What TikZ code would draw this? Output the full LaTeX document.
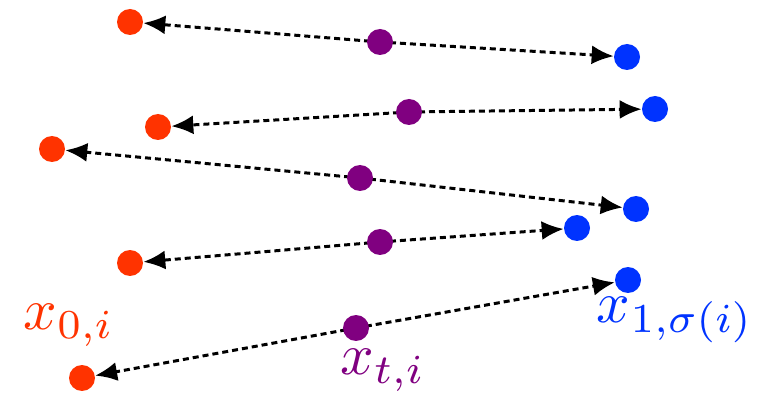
\documentclass[tikz,border=0pt]{standalone}
\usepackage{amsmath,amssymb}
\usepackage{graphicx}
\usepackage{tikz}
\usetikzlibrary{arrows.meta,positioning}
\definecolor{srcred}{RGB}{255,51,0}
\definecolor{tgtblue}{RGB}{0,51,255}
\definecolor{midpurple}{RGB}{128,0,128}
\newcommand{\biglabel}[1]{\scalebox{3.35}{$#1$}}
\tikzset{
    pt/.style={circle, inner sep=0pt, minimum size=0.52cm},
    link/.style={-{Latex[length=0.44cm,width=0.38cm]}, line width=1.7pt, dash pattern=on 0.12cm off 0.08cm},
    bigmath/.style={inner sep=0pt}
}

\begin{document}
\begin{tikzpicture}[x=0.02cm, y=-0.02cm]
    \useasboundingbox (0,0) rectangle (757,398);

    \node[pt, fill=srcred] (r1) at (130, 22) {};
    \node[pt, fill=srcred] (r2) at (158, 127) {};
    \node[pt, fill=srcred] (r3) at (52, 149) {};
    \node[pt, fill=srcred] (r4) at (130, 263) {};
    \node[pt, fill=srcred] (r5) at (82, 378) {};

    \node[pt, fill=tgtblue] (b1) at (627, 57) {};
    \node[pt, fill=tgtblue] (b2) at (655, 109) {};
    \node[pt, fill=tgtblue] (b3) at (636, 209) {};
    \node[pt, fill=tgtblue] (b4) at (577, 228) {};
    \node[pt, fill=tgtblue] (b5) at (628, 280) {};

    \draw[link] (380, 42) -- (r1);
    \draw[link] (380, 42) -- (b1);
    \draw[link] (409, 112) -- (r2);
    \draw[link] (409, 112) -- (b2);
    \draw[link] (360, 178) -- (r3);
    \draw[link] (360, 178) -- (b3);
    \draw[link] (380, 242) -- (r4);
    \draw[link] (380, 242) -- (b4);
    \draw[link] (356, 328) -- (r5);
    \draw[link] (356, 328) -- (b5);

    \node[pt, fill=midpurple] (m1) at (380, 42) {};
    \node[pt, fill=midpurple] (m2) at (409, 112) {};
    \node[pt, fill=midpurple] (m3) at (360, 178) {};
    \node[pt, fill=midpurple] (m4) at (380, 242) {};
    \node[pt, fill=midpurple] (m5) at (356, 328) {};

    \node[bigmath, text=srcred] (lr) at (69, 325) {\biglabel{x_{0,i}}};
    \node[bigmath, text=midpurple] (lm) at (383, 370) {\biglabel{x_{t,i}}};
    \node[bigmath, text=tgtblue] (lb) at (675, 320) {\biglabel{x_{1,\sigma(i)}}};
\end{tikzpicture}
\end{document}
